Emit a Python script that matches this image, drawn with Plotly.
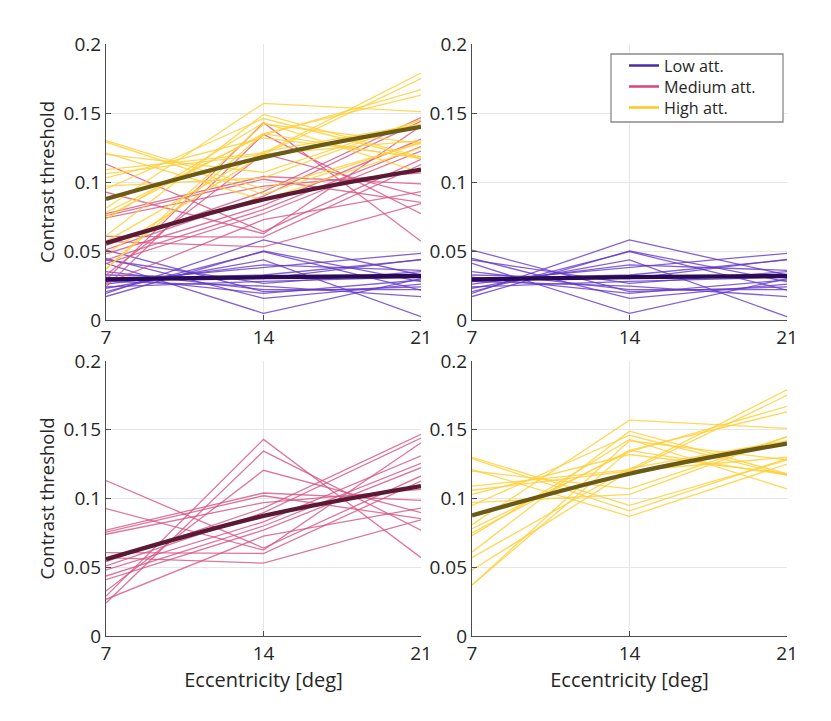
import plotly.graph_objects as go

ecc = [7, 14, 21]

low_lines = [
    [0.041, 0.0048, 0.030], [0.0507, 0.0205, 0.024], [0.0447, 0.0157, 0.026],
    [0.0193, 0.058, 0.0326], [0.017, 0.050, 0.0278], [0.0205, 0.0495, 0.0217],
    [0.023, 0.0435, 0.0024], [0.026, 0.040, 0.036], [0.0278, 0.038, 0.0483],
    [0.030, 0.0326, 0.0435], [0.0326, 0.030, 0.044], [0.0435, 0.0266, 0.035],
    [0.028, 0.0246, 0.017], [0.031, 0.0193, 0.029], [0.024, 0.028, 0.031],
    [0.035, 0.022, 0.022],
]
low_fit = [0.0295, 0.031, 0.0319]

medium_lines = [
    [0.029, 0.143, 0.057], [0.024, 0.1345, 0.077], [0.0327, 0.1205, 0.0897],
    [0.113, 0.064, 0.1164], [0.0926, 0.0625, 0.1406], [0.077, 0.104, 0.0987],
    [0.0756, 0.102, 0.0853], [0.074, 0.097, 0.1067], [0.0606, 0.060, 0.1127],
    [0.057, 0.053, 0.0844], [0.054, 0.093, 0.1467], [0.051, 0.0897, 0.144],
    [0.048, 0.083, 0.131], [0.0436, 0.080, 0.1256], [0.041, 0.077, 0.1224],
    [0.0267, 0.0727, 0.093],
]
medium_fit = [0.0558, 0.0873, 0.109]

high_lines = [
    [0.130, 0.095, 0.128], [0.129, 0.091, 0.129], [0.121, 0.087, 0.125],
    [0.120, 0.107, 0.145], [0.109, 0.121, 0.179], [0.106, 0.120, 0.175],
    [0.103, 0.132, 0.118], [0.097, 0.103, 0.145], [0.095, 0.146, 0.117],
    [0.081, 0.157, 0.151], [0.078, 0.134, 0.167], [0.075, 0.135, 0.163],
    [0.073, 0.143, 0.107], [0.061, 0.149, 0.118], [0.057, 0.122, 0.142],
    [0.048, 0.120, 0.130], [0.037, 0.142, 0.128], [0.037, 0.135, 0.117],
]
high_fit = [0.0877, 0.118, 0.140]

group_names = ["Low att.", "Medium att.", "High att."]
y_ticks = [0, 0.05, 0.1, 0.15, 0.2]
y_tick_labels = ["0", "0.05", "0.1", "0.15", "0.2"]
x_ticks = [7, 14, 21]

groups = [
    (low_lines, low_fit, "rgba(100,56,200,0.80)", "#2a0a55", "#4b2aa3"),
    (medium_lines, medium_fit, "rgba(214,84,130,0.80)", "#5a1a34", "#d6457c"),
    (high_lines, high_fit, "rgba(255,208,60,0.85)", "#6a5a16", "#ffc81e"),
]

FONT = "'Open Sans', sans-serif"
TXT = "#262626"

fig = go.Figure()

panel_groups = {1: [0, 1, 2], 2: [0], 3: [1], 4: [2]}
axn = {1: ("x", "y"), 2: ("x2", "y2"), 3: ("x3", "y3"), 4: ("x4", "y4")}

for p in [1, 2, 3, 4]:
    xa, ya = axn[p]
    for gi in panel_groups[p]:
        lines, fit, thin, dark, leg = groups[gi]
        for row in lines:
            fig.add_trace(go.Scatter(x=ecc, y=row, mode="lines", xaxis=xa, yaxis=ya,
                                     line=dict(color=thin, width=1.3), showlegend=False,
                                     hoverinfo="skip"))
    for gi in panel_groups[p]:
        lines, fit, thin, dark, leg = groups[gi]
        fig.add_trace(go.Scatter(x=ecc, y=fit, mode="lines", xaxis=xa, yaxis=ya,
                                 line=dict(color=dark, width=4.3, shape="spline"),
                                 showlegend=False, hoverinfo="skip"))

legend_ids = ["legend", "legend2", "legend3"]
for gi, name in enumerate(group_names):
    fig.add_trace(go.Scatter(x=[None], y=[None], mode="lines", xaxis="x2", yaxis="y2",
                             name=name, legend=legend_ids[gi],
                             line=dict(color=groups[gi][4], width=2.5)))

W, H = 831, 721
OFF = 8  # page body margin


def px_x(v):
    return (v - OFF) / W


def px_y(v):
    return 1 - (v - OFF) / H


xd = {1: [px_x(106), px_x(421)], 2: [px_x(472), px_x(787)],
      3: [px_x(106), px_x(421)], 4: [px_x(472), px_x(787)]}
yd_top = [px_y(320), px_y(44)]
yd_bot = [px_y(636), px_y(361)]
yd = {1: yd_top, 2: yd_top, 3: yd_bot, 4: yd_bot}

legend_centers = [66, 87, 108]

layout = dict(
    width=W, height=H,
    template="none",
    margin=dict(l=0, r=0, t=0, b=0, autoexpand=False),
    paper_bgcolor="white", plot_bgcolor="white",
    font=dict(family=FONT, size=19, color=TXT),
    showlegend=True,
    shapes=[dict(type="rect", xref="paper", yref="paper",
                 x0=px_x(611), x1=px_x(783), y0=px_y(122), y1=px_y(54),
                 line=dict(color="#8a8a8a", width=1.3), fillcolor="white", layer="above")],
)
for lid, cy in zip(legend_ids, legend_centers):
    layout[lid] = dict(x=px_x(624), y=px_y(cy), xanchor="left", yanchor="middle",
                       bgcolor="rgba(0,0,0,0)", borderwidth=0,
                       font=dict(size=16.2, color=TXT), itemwidth=30)

for p in [1, 2, 3, 4]:
    sx = "" if p == 1 else str(p)
    layout["xaxis" + sx] = dict(
        domain=xd[p], anchor="y" + sx, range=[7, 21], tickvals=x_ticks,
        showgrid=True, gridcolor="#e6e6e6", gridwidth=1, automargin=False,
        showline=True, linecolor="#4d4d4d", linewidth=1.2,
        ticks="inside", ticklen=5, tickcolor="#4d4d4d", zeroline=False,
        tickfont=dict(size=19, color=TXT),
        title=dict(text="Eccentricity [deg]" if p in (3, 4) else "", standoff=2,
                   font=dict(size=20, color=TXT)),
    )
    layout["yaxis" + sx] = dict(
        domain=yd[p], anchor="x" + sx, range=[0, 0.2], tickvals=y_ticks,
        ticktext=y_tick_labels, automargin=False,
        showgrid=True, gridcolor="#e6e6e6", gridwidth=1,
        showline=True, linecolor="#4d4d4d", linewidth=1.2,
        ticks="inside", ticklen=5, tickcolor="#4d4d4d", zeroline=False,
        tickfont=dict(size=19, color=TXT),
        title=dict(text="Contrast threshold" if p in (1, 3) else "", standoff=4,
                   font=dict(size=18.5, color=TXT)),
    )

fig.update_layout(**layout)
fig.write_html("out.html")
